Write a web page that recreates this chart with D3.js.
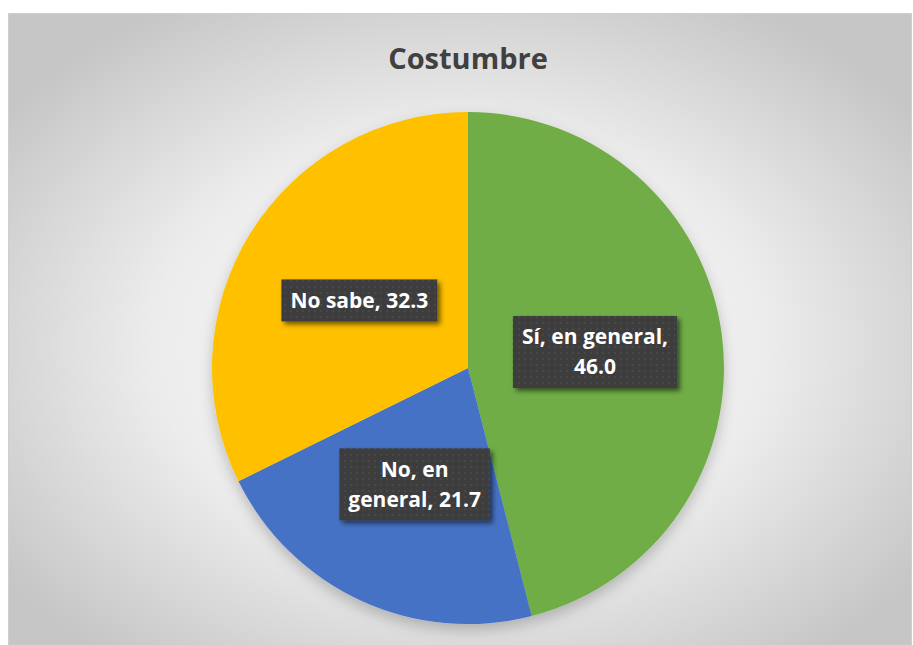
<!DOCTYPE html>
<html>
<head>
<meta charset="utf-8">
<script src="https://cdn.jsdelivr.net/npm/d3@7"></script>
<style>
  html, body { margin: 0; padding: 0; background: #ffffff; }
  svg { display: block; }
</style>
</head>
<body>
<svg id="chart" width="913" height="645"></svg>
<script>
// Survey answers for "Costumbre" (percentages)
const categories = ["Sí, en general", "No, en general", "No sabe"];
const values = [46.0, 21.7, 32.3];
const colors = ["#70AD47", "#4472C4", "#FFC000"];
// number of words of "category, value" placed on the first label line
const firstLineWords = [3, 2, 3];
const title = "Costumbre";

const W = 913, H = 645;
const cx = 468, cy = 368, R = 256;
const FONT = "'Open Sans', Lato, sans-serif";

const svg = d3.select("#chart");
const defs = svg.append("defs");

// Chart-area background: soft radial light-to-grey gradient
const bg = defs.append("radialGradient").attr("id", "bgGrad")
  .attr("cx", "0.5").attr("cy", "0.52").attr("r", "0.62");
bg.append("stop").attr("offset", "0").attr("stop-color", "#ffffff");
bg.append("stop").attr("offset", "0.55").attr("stop-color", "#ececec");
bg.append("stop").attr("offset", "1").attr("stop-color", "#c6c6c6");

// Soft outer shadow under the pie
const pieShadow = defs.append("filter").attr("id", "pieShadow")
  .attr("x", "-20%").attr("y", "-20%").attr("width", "140%").attr("height", "140%");
pieShadow.append("feDropShadow").attr("dx", 0).attr("dy", 6)
  .attr("stdDeviation", 7).attr("flood-color", "#000").attr("flood-opacity", 0.22);

// Shadow for the data-label boxes
const boxShadow = defs.append("filter").attr("id", "boxShadow")
  .attr("x", "-20%").attr("y", "-30%").attr("width", "140%").attr("height", "160%");
boxShadow.append("feDropShadow").attr("dx", 3).attr("dy", 3)
  .attr("stdDeviation", 2.5).attr("flood-color", "#000").attr("flood-opacity", 0.55);

// Fine dotted texture on the label boxes
const pat = defs.append("pattern").attr("id", "dots")
  .attr("width", 6).attr("height", 6).attr("patternUnits", "userSpaceOnUse");
pat.append("rect").attr("width", 6).attr("height", 6).attr("fill", "#3e3e3e");
pat.append("circle").attr("cx", 3).attr("cy", 3).attr("r", 1.1).attr("fill", "#484848");

// Background panel
svg.append("rect")
  .attr("x", 8.5).attr("y", 13.5).attr("width", 903).attr("height", 640)
  .attr("fill", "url(#bgGrad)").attr("stroke", "#cfcfcf").attr("stroke-width", 1);

// Title
svg.append("text")
  .attr("x", cx).attr("y", 69)
  .attr("text-anchor", "middle")
  .attr("font-family", FONT)
  .attr("font-weight", "bold").attr("font-size", 29)
  .attr("fill", "#404040")
  .text(title);

// Pie
const data = categories.map((c, i) => ({ category: c, value: values[i], color: colors[i], words: firstLineWords[i] }));
const pie = d3.pie().value(d => d.value).sort(null);
const arcs = pie(data);
const arc = d3.arc().innerRadius(0).outerRadius(R);
const labelArc = d3.arc().innerRadius(R * 0.5).outerRadius(R * 0.5);

const g = svg.append("g").attr("transform", `translate(${cx},${cy})`);
g.append("g").attr("filter", "url(#pieShadow)")
  .selectAll("path").data(arcs).join("path")
  .attr("d", arc)
  .attr("fill", d => d.data.color);

// Data labels: "category, value" wrapped into boxes
const fontSize = 21, lineH = 30, padX = 9;
const labels = g.append("g").selectAll("g.lbl").data(arcs).join("g").attr("class", "lbl");
labels.each(function(d) {
  const sel = d3.select(this);
  const [x, y] = labelArc.centroid(d);
  const full = d.data.category + ", " + d.data.value.toFixed(1);
  const words = full.split(" ");
  const lines = [words.slice(0, d.data.words).join(" ")];
  if (words.length > d.data.words) lines.push(words.slice(d.data.words).join(" "));
  const rect = sel.append("rect").attr("fill", "url(#dots)").attr("filter", "url(#boxShadow)");
  const txt = sel.append("text")
    .attr("text-anchor", "middle")
    .attr("font-family", FONT)
    .attr("font-weight", "bold").attr("font-size", fontSize)
    .attr("fill", "#ffffff");
  const n = lines.length;
  const h = n * lineH + 12;
  lines.forEach((ln, i) => {
    txt.append("tspan").attr("x", x)
      .attr("y", y - (n - 1) * lineH / 2 + i * lineH + 7.5)
      .text(ln);
  });
  const w = d3.max(txt.selectAll("tspan").nodes(), nd => nd.getComputedTextLength()) + padX * 2;
  rect.attr("x", x - w / 2).attr("y", y - h / 2).attr("width", w).attr("height", h);
});
</script>
</body>
</html>
